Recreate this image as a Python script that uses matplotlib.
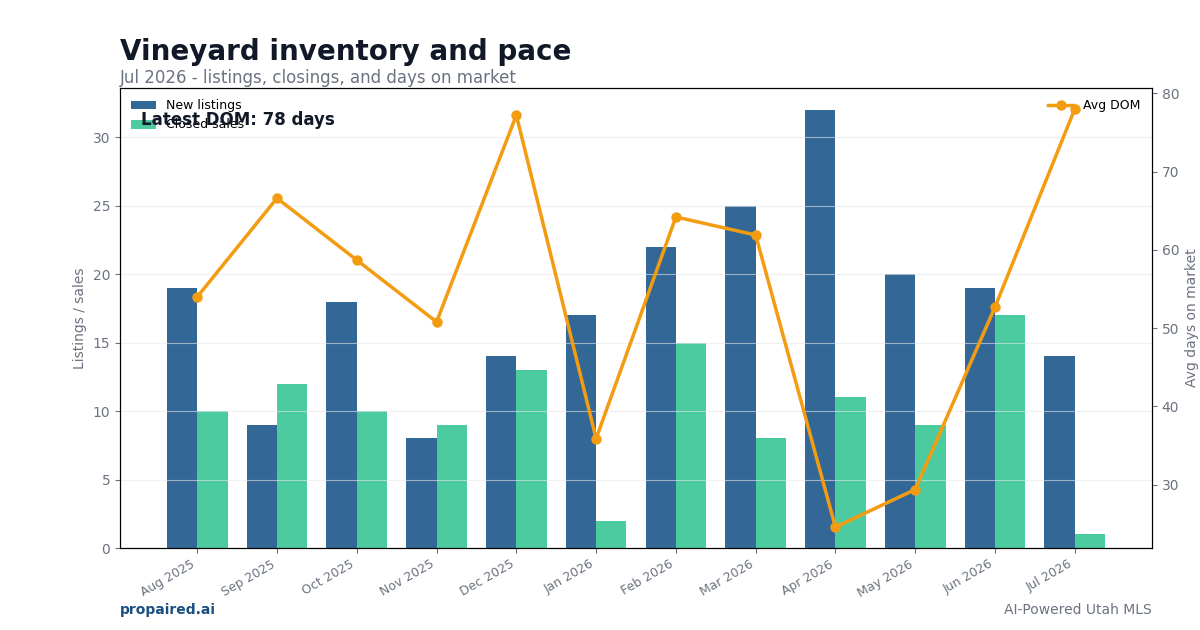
import matplotlib
matplotlib.use("Agg")
import matplotlib.pyplot as plt
import numpy as np

months = ["Aug 2025", "Sep 2025", "Oct 2025", "Nov 2025", "Dec 2025", "Jan 2026",
          "Feb 2026", "Mar 2026", "Apr 2026", "May 2026", "Jun 2026", "Jul 2026"]
new_listings = [19, 9, 18, 8, 14, 17, 22, 25, 32, 20, 19, 14]
closed_sales = [10, 12, 10, 9, 13, 2, 15, 8, 11, 9, 17, 1]
avg_dom = [54.0, 66.6, 58.7, 50.8, 77.2, 35.9, 64.2, 61.9, 24.6, 29.4, 52.7, 78.0]

BLUE = "#336896"
GREEN = "#4bcb9f"
ORANGE = "#f39c12"
GRAY = "#6b7280"
DARK = "#111827"

fig = plt.figure(figsize=(12, 6.3), dpi=100)
ax = fig.add_axes([0.1, 1 - 548 / 630, (1152 - 120) / 1200, (548 - 88) / 630])
x = np.arange(len(months))
w = 0.38
ax.bar(x - w / 2, new_listings, w, color=BLUE, label="New listings")
ax.bar(x + w / 2, closed_sales, w, color=GREEN, label="Closed sales")
ax.set_xticks(x)
ax.set_xticklabels(months, rotation=30, ha="right", color=GRAY, fontsize=9)
ax.tick_params(axis="y", colors=GRAY, labelsize=10)
ax.tick_params(axis="x", colors=GRAY)
ax.set_ylabel("Listings / sales", color=GRAY, fontsize=10)
ax.yaxis.grid(True, color="#e5e7eb", alpha=0.6, linewidth=0.8)
ax.legend(loc="upper left", frameon=False, fontsize=9)

ax2 = ax.twinx()
ax2.plot(x, avg_dom, color=ORANGE, linewidth=2.5, marker="o", markersize=6.5, label="Avg DOM")
ax2.tick_params(axis="y", colors=GRAY, labelsize=10)
ax2.set_ylabel("Avg days on market", color=GRAY, fontsize=10)
ax2.legend(loc="upper right", frameon=False, fontsize=9)

ax.text(0.02, 0.93, f"Latest DOM: {avg_dom[-1]:.0f} days", transform=ax.transAxes,
        fontsize=12, fontweight="bold", color=DARK, va="center", zorder=10)

fig.text(120 / 1200, 1 - 52 / 630, "Vineyard inventory and pace", fontsize=20,
         fontweight="bold", color=DARK, va="center", ha="left")
fig.text(120 / 1200, 1 - 78 / 630, "Jul 2026 - listings, closings, and days on market",
         fontsize=12, color=GRAY, va="center", ha="left")
fig.text(120 / 1200, 1 - 610 / 630, "propaired.ai", fontsize=10, fontweight="bold",
         color="#1a4f80", va="center", ha="left")
fig.text(1152 / 1200, 1 - 610 / 630, "AI-Powered Utah MLS", fontsize=10, color=GRAY,
         va="center", ha="right")

fig.savefig("out.png", dpi=100)
